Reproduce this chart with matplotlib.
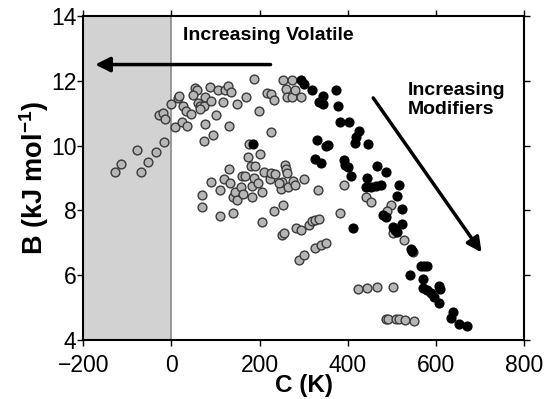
import matplotlib
matplotlib.use("Agg")
import matplotlib.pyplot as plt

plt.rcParams['font.family'] = ['Liberation Sans', 'DejaVu Sans']
plt.rcParams['mathtext.fontset'] = 'custom'
plt.rcParams['mathtext.rm'] = 'Liberation Sans'
plt.rcParams['mathtext.bf'] = 'Liberation Sans:bold'

# grey points (no modifiers)
gray_c = [-129, -114, -70, -78, -53, -35, -17, -27, -20, -14, -1, 9, 14, 18, 27, 24,
          36, 34, 45, 53, 57, 48, 60, 66, 75, 77, 87, 89, 76, 95, 75, 102, 106, 117,
          121, 129, 136, 130, 149, 170, 187, 198, 216, 225, 233, 227, 254, 273, 259,
          263, 274, 280, 295, 64,
          70, 70, 91, 111, 111, 119, 130, 134, 140, 144, 148, 140, 157, 162, 161, 166,
          176, 174, 180, 189, 183, 183, 187, 197, 200, 206, 205, 210, 223, 227, 234,
          233, 249, 252, 253, 257, 261, 263, 264, 252, 255, 276, 280, 282, 293, 289,
          301, 302, 312, 320, 327, 335, 326, 339, 350, 333, 383, 392, 424, 244,
          441, 454, 498, 490, 502, 528, 549, 445, 467, 503, 486, 492, 509, 517, 530, 551]
gray_b = [9.18, 9.42, 9.18, 9.86, 9.48, 9.81, 10.10, 10.93, 11.01, 10.82, 11.29, 10.56,
          11.46, 11.52, 11.21, 10.74, 10.59, 11.06, 10.98, 11.78, 11.71, 11.57, 11.32,
          11.21, 11.23, 11.50, 11.81, 11.39, 10.67, 10.34, 10.13, 10.95, 11.73, 11.34,
          11.73, 11.85, 11.64, 10.61, 11.27, 11.49, 12.06, 11.08, 11.63, 11.58, 11.42,
          10.42, 12.01, 12.01, 11.75, 11.50, 11.50, 11.73, 11.50, 11.12,
          8.48, 8.10, 8.86, 8.64, 7.84, 8.98, 9.29, 8.84, 8.41, 8.58, 8.33, 7.93, 8.72,
          8.50, 9.05, 9.07, 10.06, 9.65, 9.36, 9.38, 8.74, 8.40, 9.00, 8.84, 9.75, 8.58,
          7.64, 9.18, 8.98, 9.15, 9.12, 7.99, 8.66, 8.86, 8.17, 9.41, 9.28, 9.15, 8.71,
          7.25, 7.30, 8.91, 8.79, 7.45, 7.40, 6.47, 6.61, 8.98, 7.55, 7.66, 7.71, 7.73,
          6.83, 6.94, 6.99, 8.64, 7.93, 8.77, 5.57, 8.84,
          8.42, 8.26, 8.15, 7.99, 7.30, 7.09, 6.70, 5.60, 5.62, 5.63, 4.64, 4.64, 4.64,
          4.64, 4.62, 4.60]

# black points (with modifiers)
black_c = [185, 293, 302, 318, 343, 335, 343, 373, 378, 383, 402, 426, 420, 416, 446,
           331, 350, 355, 325, 340, 392, 395, 401, 408, 466, 486, 443, 441, 452, 464,
           475, 517, 511, 524, 481, 486, 524, 504, 507, 511, 413, 543, 547, 566, 574,
           581, 542, 570, 572, 581, 589, 595, 608, 609, 608, 638, 634, 653, 670]
black_b = [10.06, 12.01, 11.91, 11.73, 11.54, 11.34, 11.29, 11.73, 11.23, 10.72, 10.72,
           10.44, 10.27, 10.08, 10.06, 10.18, 10.00, 10.03, 9.59, 9.46, 9.56, 9.41, 9.34,
           9.05, 9.38, 9.18, 9.00, 8.72, 8.72, 8.76, 8.79, 8.79, 8.43, 8.04, 7.86, 7.81,
           7.59, 7.50, 7.38, 7.33, 7.45, 6.80, 6.75, 6.27, 6.29, 6.29, 5.99, 5.89, 5.60,
           5.55, 5.44, 5.34, 5.67, 5.57, 5.15, 4.87, 4.67, 4.49, 4.44]

xticks = [-200, 0, 200, 400, 600, 800]
yticks = [4, 6, 8, 10, 12, 14]

fig = plt.figure(figsize=(5.55, 3.99), dpi=100)
ax = fig.add_axes([0.150, 0.148, 0.794, 0.812])

ax.axvspan(-200, 0, color='#d2d2d2', zorder=0, lw=0)
ax.axvline(0, color='#8a8a8a', lw=1.2, zorder=1)

ax.scatter(gray_c, gray_b, s=40, facecolor='#b6b6b6', edgecolor='#3a3a3a',
           linewidth=1.0, zorder=2)
ax.scatter(black_c, black_b, s=40, facecolor='black', edgecolor='black',
           linewidth=1.0, zorder=3)

ax.annotate('', xy=(-173, 12.5), xytext=(225, 12.5),
            arrowprops=dict(arrowstyle='-|>', lw=2.5, color='black',
                            mutation_scale=22, shrinkA=0, shrinkB=0))
ax.annotate('', xy=(704, 6.7), xytext=(458, 11.47),
            arrowprops=dict(arrowstyle='-|>', lw=2.5, color='black',
                            mutation_scale=22, shrinkA=0, shrinkB=0))

ax.text(27, 13.40, 'Increasing Volatile', fontsize=14, fontweight='bold',
        ha='left', va='center')
ax.text(536, 11.4, 'Increasing\nModifiers', fontsize=14, fontweight='bold',
        ha='left', va='center', linespacing=1.15)

ax.set_xlim(-200, 800)
ax.set_ylim(4, 14)
ax.set_xticks(xticks)
ax.set_yticks(yticks)
ax.tick_params(direction='out', length=4, width=1, labelsize=16.5,
               top=True, right=True)
ax.tick_params(axis='x', pad=6)
ax.tick_params(axis='y', pad=1)
for sp in ax.spines.values():
    sp.set_linewidth(1.5)

ax.set_xlabel('C (K)', fontsize=17.5, fontweight='bold', labelpad=-2)
ax.set_ylabel(r'B (kJ mol$^{\mathbf{-1}}$)', fontsize=19.5, fontweight='bold',
              labelpad=0)

fig.savefig('out.png', dpi=100)
